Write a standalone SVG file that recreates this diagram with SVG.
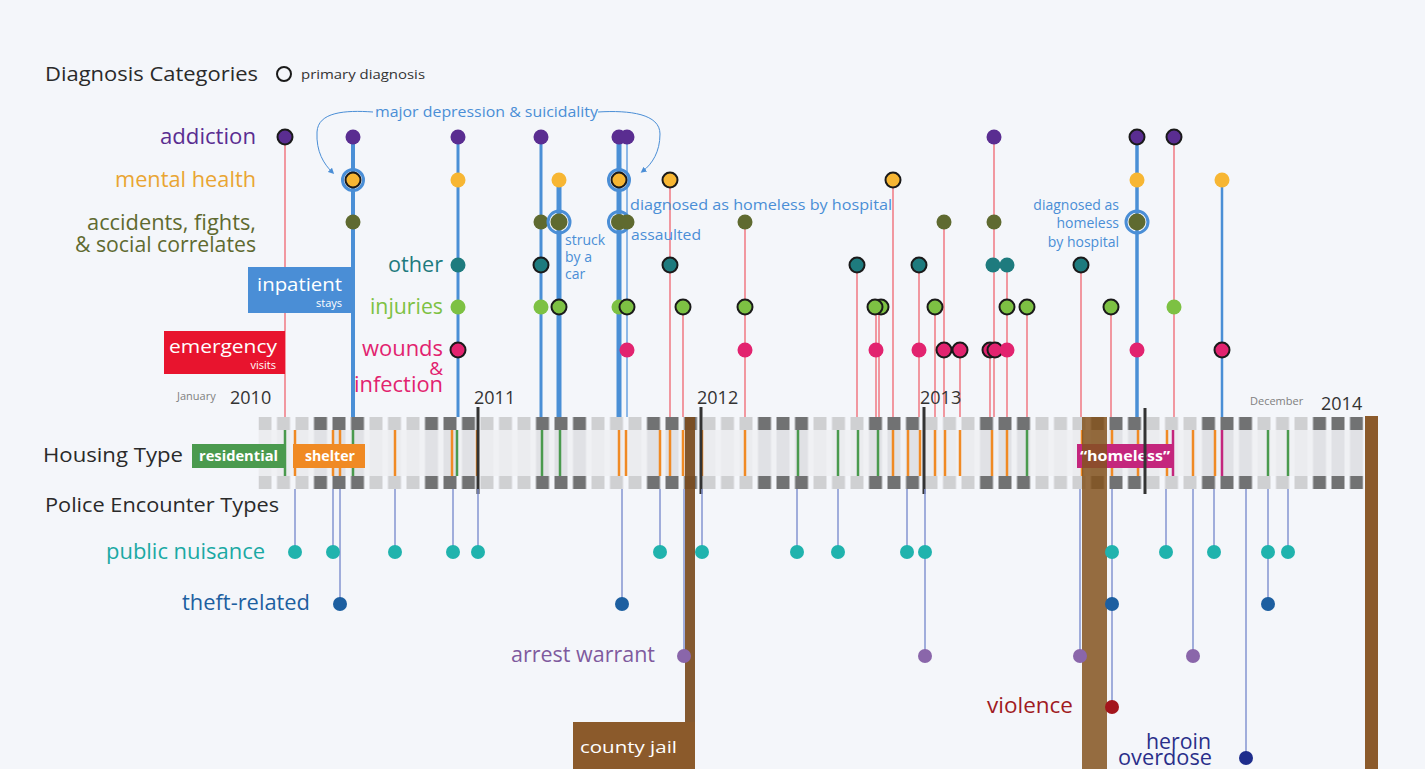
<svg xmlns="http://www.w3.org/2000/svg" width="1425" height="769" viewBox="0 0 1425 769">
<defs>
<style>
text{font-family:"Open Sans","Noto Sans","Liberation Sans",sans-serif}
.h{fill:#2a2a2a;font-size:20px}
.lab{font-size:21px}
.ann{fill:#4a8ed6;font-size:14px}
.wb{fill:#fff;font-weight:bold;font-size:14px}
.A{fill:#5a2d91}.M{fill:#f7b633}.S{fill:#5f6a30}.O{fill:#1e7b7e}.I{fill:#7dc143}.W{fill:#e2236f}
.P{stroke:#1a1a1a;stroke-width:2}
.halo{fill:none;stroke:#4a8ed6;stroke-width:3}
.pk{stroke:#f0808a;stroke-width:1.6;fill:none}
.bl{stroke:#4a8fd6;fill:none}
.pol{stroke:#8494d0;stroke-width:1.5;fill:none}
.hz{stroke-width:2.5;fill:none}
.ho{stroke:#f08a24}.hg{stroke:#4a9a4e}.hm{stroke:#c4267d}
.yr{fill:#333;font-size:18px}
.mo{fill:#808080;font-size:11px}
.pn{fill:#20b3ad}.th{fill:#1d5fa0}.aw{fill:#8a66aa}
</style>
<pattern id="pRow" patternUnits="userSpaceOnUse" x="258.5" y="0" width="111" height="769">
<rect x="0" y="0" width="13" height="769" fill="#cfd0d2"/>
<rect x="18.5" y="0" width="13" height="769" fill="#cfd0d2"/>
<rect x="37" y="0" width="13" height="769" fill="#cfd0d2"/>
<rect x="55.5" y="0" width="13" height="769" fill="#717273"/>
<rect x="74" y="0" width="13" height="769" fill="#717273"/>
<rect x="92.5" y="0" width="13" height="769" fill="#717273"/>
</pattern>
<pattern id="pMid" patternUnits="userSpaceOnUse" x="258.5" y="0" width="111" height="769">
<rect x="0" y="0" width="111" height="769" fill="#f0f1f4"/>
<rect x="0" y="0" width="13" height="769" fill="#ebecef"/>
<rect x="18.5" y="0" width="13" height="769" fill="#ebecef"/>
<rect x="37" y="0" width="13" height="769" fill="#ebecef"/>
<rect x="55.5" y="0" width="13" height="769" fill="#e0e1e5"/>
<rect x="74" y="0" width="13" height="769" fill="#e0e1e5"/>
<rect x="92.5" y="0" width="13" height="769" fill="#e0e1e5"/>
</pattern>
<marker id="ah" markerWidth="6" markerHeight="6" refX="3" refY="3" orient="auto" markerUnits="userSpaceOnUse">
<path d="M0,0 L6,3 L0,6 z" fill="#4a8ed6"/>
</marker>
</defs>

<rect x="0" y="0" width="1425" height="769" fill="#f4f6fa"/>

<!-- timeline band -->
<g id="timeline">
<rect x="258.5" y="430" width="1105" height="46" fill="url(#pMid)"/>
<rect x="258.5" y="417" width="1105" height="13" fill="url(#pRow)"/>
<rect x="258.5" y="476" width="1105" height="13" fill="url(#pRow)"/>
</g>

<!-- housing lines -->
<g id="housing-lines">
<line class="hz hg" x1="285" y1="430" x2="285" y2="476"/>
<line class="hz ho" x1="295" y1="430" x2="295" y2="476"/>
<line class="hz ho" x1="333" y1="430" x2="333" y2="476"/>
<line class="hz ho" x1="340" y1="430" x2="340" y2="476"/>
<line class="hz hg" x1="353" y1="430" x2="353" y2="476"/>
<line class="hz ho" x1="395" y1="430" x2="395" y2="476"/>
<line class="hz ho" x1="452" y1="430" x2="452" y2="476"/>
<line class="hz hg" x1="457" y1="430" x2="457" y2="476"/>
<line class="hz ho" x1="477" y1="430" x2="477" y2="476"/>
<line class="hz hg" x1="542" y1="430" x2="542" y2="476"/>
<line class="hz hg" x1="560" y1="430" x2="560" y2="476"/>
<line class="hz ho" x1="619" y1="430" x2="619" y2="476" stroke-width="4"/>
<line class="hz ho" x1="626" y1="430" x2="626" y2="476"/>
<line class="hz ho" x1="660" y1="430" x2="660" y2="476"/>
<line class="hz ho" x1="670" y1="430" x2="670" y2="476"/>
<line class="hz ho" x1="683" y1="430" x2="683" y2="476"/>
<line class="hz ho" x1="702" y1="430" x2="702" y2="476"/>
<line class="hz ho" x1="745" y1="430" x2="745" y2="476"/>
<line class="hz hg" x1="798" y1="430" x2="798" y2="476"/>
<line class="hz hg" x1="838" y1="430" x2="838" y2="476"/>
<line class="hz hg" x1="858" y1="430" x2="858" y2="476"/>
<line class="hz hg" x1="878" y1="430" x2="878" y2="476" stroke-width="3.5"/>
<line class="hz ho" x1="893" y1="430" x2="893" y2="476"/>
<line class="hz ho" x1="908" y1="430" x2="908" y2="476"/>
<line class="hz ho" x1="920" y1="430" x2="920" y2="476"/>
<line class="hz ho" x1="935" y1="430" x2="935" y2="476"/>
<line class="hz ho" x1="945" y1="430" x2="945" y2="476"/>
<line class="hz ho" x1="960" y1="430" x2="960" y2="476"/>
<line class="hz ho" x1="992" y1="430" x2="992" y2="476" stroke-width="3.5"/>
<line class="hz ho" x1="1007" y1="430" x2="1007" y2="476"/>
<line class="hz hg" x1="1027" y1="430" x2="1027" y2="476"/>
<line class="hz ho" x1="1082" y1="430" x2="1082" y2="476"/>
<line class="hz ho" x1="1112" y1="430" x2="1112" y2="476"/>
<line class="hz ho" x1="1138" y1="430" x2="1138" y2="476"/>
<line class="hz ho" x1="1167" y1="430" x2="1167" y2="476"/>
<line class="hz hm" x1="1173" y1="430" x2="1173" y2="476"/>
<line class="hz ho" x1="1193" y1="430" x2="1193" y2="476"/>
<line class="hz ho" x1="1215" y1="430" x2="1215" y2="476"/>
<line class="hz hm" x1="1222" y1="430" x2="1222" y2="476"/>
<line class="hz hg" x1="1268" y1="430" x2="1268" y2="476"/>
<line class="hz hg" x1="1288" y1="430" x2="1288" y2="476"/>
</g>

<!-- housing boxes -->
<g id="housing-residential">
<rect x="192" y="444" width="92" height="24" fill="#4a9a4e"/>
<text class="wb" x="199" y="461" textLength="79" lengthAdjust="spacingAndGlyphs">residential</text>
</g>
<g id="housing-shelter">
<rect x="293" y="444" width="72" height="24" fill="#f08a24"/>
<text class="wb" x="305" y="461" textLength="50" lengthAdjust="spacingAndGlyphs">shelter</text>
</g>
<g id="housing-homeless">
<rect x="1077" y="444" width="96" height="24" fill="#c4267d"/>
</g>

<!-- jail bars -->
<g id="county-jail">
<rect x="685" y="417" width="10" height="305" fill="#7a4b1e" opacity="0.92"/>
<rect x="573" y="722" width="122" height="47" fill="#8b5a2b"/>
<text x="580" y="753" fill="#fff" font-size="17" textLength="97" lengthAdjust="spacingAndGlyphs">county jail</text>
<rect x="1082" y="417" width="25" height="352" fill="#84531f" opacity="0.85"/>
<rect x="1365" y="416" width="13" height="353" fill="#8b5a2b"/>
</g>
<text class="wb" x="1080" y="461" textLength="90" lengthAdjust="spacingAndGlyphs">“homeless”</text>

<!-- year lines -->
<g id="year-lines" stroke="#333" stroke-width="3">
<line x1="478" y1="407" x2="478" y2="494"/>
<line x1="701" y1="407" x2="701" y2="494"/>
<line x1="924" y1="407" x2="924" y2="494"/>
<line x1="1145" y1="408" x2="1145" y2="494"/>
</g>

<!-- connectors -->
<g id="connectors">
<!-- emergency stems -->
<line class="pk" x1="285" y1="137" x2="285" y2="417"/>
<line class="pk" x1="670" y1="180" x2="670" y2="417"/>
<line class="pk" x1="683" y1="307" x2="683" y2="417"/>
<line class="pk" x1="745" y1="222" x2="745" y2="417"/>
<line class="pk" x1="857" y1="265" x2="857" y2="417"/>
<line class="pk" x1="876" y1="307" x2="876" y2="417"/>
<line class="pk" x1="879" y1="307" x2="879" y2="417"/>
<line class="pk" x1="893" y1="180" x2="893" y2="417"/>
<line class="pk" x1="919" y1="265" x2="919" y2="417"/>
<line class="pk" x1="935" y1="307" x2="935" y2="417"/>
<line class="pk" x1="944" y1="222" x2="944" y2="417"/>
<line class="pk" x1="960" y1="350" x2="960" y2="417"/>
<line class="pk" x1="990" y1="350" x2="990" y2="417"/>
<line class="pk" x1="994" y1="137" x2="994" y2="417"/>
<line class="pk" x1="1007" y1="265" x2="1007" y2="417"/>
<line class="pk" x1="1027" y1="307" x2="1027" y2="417"/>
<line class="pk" x1="1081" y1="265" x2="1081" y2="417"/>
<line class="pk" x1="1111" y1="307" x2="1111" y2="417"/>
<line class="pk" x1="1174" y1="137" x2="1174" y2="417"/>
<!-- inpatient stems -->
<line class="bl" stroke-width="4" x1="353" y1="137" x2="353" y2="417"/>
<line class="bl" stroke-width="3" x1="458" y1="137" x2="458" y2="417"/>
<line class="bl" stroke-width="3" x1="541" y1="137" x2="541" y2="417"/>
<line class="bl" stroke-width="5" x1="559" y1="180" x2="559" y2="417"/>
<line class="bl" stroke-width="5" x1="619" y1="137" x2="619" y2="417"/>
<line stroke="#8db8e8" stroke-width="2" x1="627" y1="137" x2="627" y2="417"/>
<line class="bl" stroke-width="3.5" x1="1137" y1="137" x2="1137" y2="417"/>
<line class="bl" stroke-width="2.5" x1="1222" y1="180" x2="1222" y2="417"/>
<!-- police stems -->
<line class="pol" x1="295" y1="489" x2="295" y2="552"/>
<line class="pol" x1="333" y1="489" x2="333" y2="552"/>
<line class="pol" x1="340" y1="489" x2="340" y2="604"/>
<line class="pol" x1="395" y1="489" x2="395" y2="552"/>
<line class="pol" x1="453" y1="489" x2="453" y2="552"/>
<line class="pol" x1="478" y1="489" x2="478" y2="552"/>
<line class="pol" x1="622" y1="489" x2="622" y2="604"/>
<line class="pol" x1="660" y1="489" x2="660" y2="552"/>
<line class="pol" x1="684" y1="489" x2="684" y2="656"/>
<line class="pol" x1="702" y1="489" x2="702" y2="552"/>
<line class="pol" x1="797" y1="489" x2="797" y2="552"/>
<line class="pol" x1="838" y1="489" x2="838" y2="552"/>
<line class="pol" x1="907" y1="489" x2="907" y2="552"/>
<line class="pol" x1="925" y1="489" x2="925" y2="656"/>
<line class="pol" x1="1080" y1="489" x2="1080" y2="656"/>
<line class="pol" x1="1112" y1="489" x2="1112" y2="707"/>
<line class="pol" x1="1166" y1="489" x2="1166" y2="552"/>
<line class="pol" x1="1193" y1="489" x2="1193" y2="656"/>
<line class="pol" x1="1214" y1="489" x2="1214" y2="552"/>
<line class="pol" x1="1246" y1="489" x2="1246" y2="758"/>
<line class="pol" x1="1268" y1="489" x2="1268" y2="604"/>
<line class="pol" x1="1288" y1="489" x2="1288" y2="552"/>
<!-- annotation curves -->
<path d="M373,112 C345,110 318,112 317,132 C316,152 324,164 332,172" fill="none" stroke="#4a8ed6" stroke-width="1" marker-end="url(#ah)"/>
<path d="M598,112 C630,110 660,114 660,134 C660,152 652,164 643,171" fill="none" stroke="#4a8ed6" stroke-width="1" marker-end="url(#ah)"/>
</g>

<!-- diagnosis events -->
<g id="ev-2010-01"><circle class="A P" cx="285" cy="137" r="7.5"/></g>
<g id="ev-2010-05">
<circle class="A" cx="353" cy="137" r="7.5"/>
<circle class="halo" cx="353" cy="180" r="10.5"/><circle class="M P" cx="353" cy="180" r="7.5"/>
<circle class="S" cx="353" cy="222" r="7.5"/>
</g>
<g id="ev-2010-11">
<circle class="A" cx="458" cy="137" r="7.5"/><circle class="M" cx="458" cy="180" r="7.5"/>
<circle class="O" cx="458" cy="265" r="7.5"/><circle class="I" cx="458" cy="307" r="7.5"/>
<circle class="W P" cx="458" cy="350" r="7.5"/>
</g>
<g id="ev-2011-04">
<circle class="A" cx="541" cy="137" r="7.5"/><circle class="S" cx="541" cy="222" r="7.5"/>
<circle class="O P" cx="541" cy="265" r="7.5"/><circle class="I" cx="541" cy="307" r="7.5"/>
</g>
<g id="ev-2011-05">
<circle class="M" cx="559" cy="180" r="7.5"/>
<circle class="halo" cx="559" cy="222" r="11"/><circle class="S" cx="559" cy="222" r="8.5"/>
<circle class="I P" cx="559" cy="307" r="7.5"/>
</g>
<g id="ev-2011-08a">
<circle class="A" cx="619" cy="137" r="7.5"/>
<circle class="halo" cx="619" cy="180" r="10.5"/><circle class="M P" cx="619" cy="180" r="7.5"/>
<circle class="halo" cx="619" cy="222" r="10.5"/><circle class="S" cx="619" cy="222" r="8"/>
<circle class="I" cx="619" cy="307" r="7.5"/>
</g>
<g id="ev-2011-08b">
<circle class="A" cx="627" cy="137" r="7.5"/><circle class="S" cx="627" cy="222" r="7.5"/>
<circle class="I P" cx="627" cy="307" r="7.5"/><circle class="W" cx="627" cy="350" r="7.5"/>
</g>
<g id="ev-2011-11"><circle class="M P" cx="670" cy="180" r="7.5"/><circle class="O P" cx="670" cy="265" r="7.5"/></g>
<g id="ev-2011-12"><circle class="I P" cx="683" cy="307" r="7.5"/></g>
<g id="ev-2012-03"><circle class="S" cx="745" cy="222" r="7.5"/><circle class="I P" cx="745" cy="307" r="7.5"/><circle class="W" cx="745" cy="350" r="7.5"/></g>
<g id="ev-2012-09"><circle class="O P" cx="857" cy="265" r="7.5"/></g>
<g id="ev-2012-10"><circle class="I P" cx="881" cy="307" r="7.5"/><circle class="I P" cx="875" cy="307" r="7.5"/><circle class="W" cx="876" cy="350" r="7.5"/></g>
<g id="ev-2012-11"><circle class="M P" cx="893" cy="180" r="7.5"/></g>
<g id="ev-2012-12"><circle class="O P" cx="919" cy="265" r="7.5"/><circle class="W" cx="919" cy="350" r="7.5"/></g>
<g id="ev-2013-01a"><circle class="I P" cx="935" cy="307" r="7.5"/></g>
<g id="ev-2013-01b"><circle class="S" cx="944" cy="222" r="7.5"/><circle class="W P" cx="944" cy="350" r="7.5"/></g>
<g id="ev-2013-02"><circle class="W P" cx="960" cy="350" r="7.5"/></g>
<g id="ev-2013-04">
<circle class="A" cx="994" cy="137" r="7.5"/><circle class="S" cx="994" cy="222" r="7.5"/>
<circle class="O" cx="993" cy="265" r="7.5"/>
<circle class="W P" cx="990" cy="350" r="7.5"/><circle class="W P" cx="995" cy="350" r="7.5"/>
</g>
<g id="ev-2013-05">
<circle class="O" cx="1007" cy="265" r="7.5"/><circle class="I P" cx="1007" cy="307" r="7.5"/><circle class="W" cx="1007" cy="350" r="7.5"/>
</g>
<g id="ev-2013-06"><circle class="I P" cx="1027" cy="307" r="7.5"/></g>
<g id="ev-2013-09"><circle class="O P" cx="1081" cy="265" r="7.5"/></g>
<g id="ev-2013-11"><circle class="I P" cx="1111" cy="307" r="7.5"/></g>
<g id="ev-2013-12">
<circle class="A P" cx="1137" cy="137" r="7.5"/><circle class="M" cx="1137" cy="180" r="7.5"/>
<circle class="halo" cx="1137" cy="222" r="11"/><circle class="S" cx="1137" cy="222" r="8.5"/>
<circle class="W" cx="1137" cy="350" r="7.5"/>
</g>
<g id="ev-2014-02"><circle class="A P" cx="1174" cy="137" r="7.5"/><circle class="I" cx="1174" cy="307" r="7.5"/></g>
<g id="ev-2014-05"><circle class="M" cx="1222" cy="180" r="7.5"/><circle class="W P" cx="1222" cy="350" r="7.5"/></g>

<!-- police dots -->
<g id="police-public-nuisance" class="pn">
<circle cx="295" cy="552" r="7"/><circle cx="333" cy="552" r="7"/><circle cx="395" cy="552" r="7"/>
<circle cx="453" cy="552" r="7"/><circle cx="478" cy="552" r="7"/><circle cx="660" cy="552" r="7"/>
<circle cx="702" cy="552" r="7"/><circle cx="797" cy="552" r="7"/><circle cx="838" cy="552" r="7"/>
<circle cx="907" cy="552" r="7"/><circle cx="925" cy="552" r="7"/><circle cx="1112" cy="552" r="7"/>
<circle cx="1166" cy="552" r="7"/><circle cx="1214" cy="552" r="7"/><circle cx="1268" cy="552" r="7"/>
<circle cx="1288" cy="552" r="7"/>
</g>
<g id="police-theft" class="th">
<circle cx="340" cy="604" r="7"/><circle cx="622" cy="604" r="7"/><circle cx="1112" cy="604" r="7"/><circle cx="1268" cy="604" r="7"/>
</g>
<g id="police-arrest" class="aw">
<circle cx="684" cy="656" r="7"/><circle cx="925" cy="656" r="7"/><circle cx="1080" cy="656" r="7"/><circle cx="1193" cy="656" r="7"/>
</g>
<g id="police-violence"><circle cx="1112" cy="707" r="7" fill="#a3151c"/></g>
<g id="police-heroin"><circle cx="1246" cy="758" r="7" fill="#1e2d8c"/></g>

<!-- legend boxes -->
<g id="inpatient-label">
<rect x="248" y="267" width="105" height="46" fill="#4a8ed6"/>
<text x="257" y="291" fill="#fff" font-size="19" textLength="85" lengthAdjust="spacingAndGlyphs">inpatient</text>
<text x="342" y="307" fill="#fff" font-size="11" text-anchor="end">stays</text>
</g>
<g id="emergency-label">
<rect x="164" y="331" width="121" height="43" fill="#e8142e"/>
<text x="169" y="353" fill="#fff" font-size="19" textLength="108" lengthAdjust="spacingAndGlyphs">emergency</text>
<text x="276" y="369" fill="#fff" font-size="11" text-anchor="end">visits</text>
</g>

<!-- headings and category labels -->
<g id="legend-diagnosis">
<text class="h" x="45" y="81" font-size="21" textLength="213" lengthAdjust="spacingAndGlyphs">Diagnosis Categories</text>
<circle cx="284" cy="74" r="7" fill="none" stroke="#1a1a1a" stroke-width="2"/>
<text x="301" y="79" fill="#333" font-size="13" textLength="124" lengthAdjust="spacingAndGlyphs">primary diagnosis</text>
</g>
<g id="cat-labels" class="lab" text-anchor="end">
<text class="A" x="256" y="144" textLength="96" lengthAdjust="spacingAndGlyphs">addiction</text>
<text x="256" y="187" fill="#e9a532" textLength="141" lengthAdjust="spacingAndGlyphs">mental health</text>
<text class="S" x="256" y="230" textLength="169" lengthAdjust="spacingAndGlyphs">accidents, fights,</text>
<text class="S" x="256" y="252" textLength="181" lengthAdjust="spacingAndGlyphs">&amp; social correlates</text>
<text class="O" x="443" y="272" textLength="55" lengthAdjust="spacingAndGlyphs">other</text>
<text class="I" x="443" y="314" textLength="73" lengthAdjust="spacingAndGlyphs">injuries</text>
<text class="W" x="443" y="356" textLength="81" lengthAdjust="spacingAndGlyphs">wounds</text>
<text class="W" x="443" y="375" font-size="19">&amp;</text>
<text class="W" x="443" y="392" textLength="89" lengthAdjust="spacingAndGlyphs">infection</text>
</g>

<!-- annotations -->
<g id="annotations" class="ann">
<text x="375" y="117" textLength="223" lengthAdjust="spacingAndGlyphs">major depression &amp; suicidality</text>
<text x="630" y="210" font-size="15" textLength="262" lengthAdjust="spacingAndGlyphs">diagnosed as homeless by hospital</text>
<text x="631" y="240" textLength="70" lengthAdjust="spacingAndGlyphs">assaulted</text>
<text x="565" y="245">struck</text>
<text x="565" y="262">by a</text>
<text x="565" y="279">car</text>
<g text-anchor="end">
<text x="1119" y="210">diagnosed as</text>
<text x="1119" y="228">homeless</text>
<text x="1119" y="247">by hospital</text>
</g>
</g>

<!-- dates -->
<g id="dates">
<text class="mo" x="177" y="400">January</text>
<text class="yr" x="230" y="404">2010</text>
<text class="yr" x="474" y="404">2011</text>
<text class="yr" x="697" y="404">2012</text>
<text class="yr" x="920" y="404">2013</text>
<text class="mo" x="1250" y="405" font-size="12">December</text>
<text class="yr" x="1321" y="410">2014</text>
</g>

<g id="legend-housing">
<text class="h" x="43" y="462" textLength="140" lengthAdjust="spacingAndGlyphs">Housing Type</text>
</g>

<g id="legend-police">
<text class="h" x="45" y="512" textLength="234" lengthAdjust="spacingAndGlyphs">Police Encounter Types</text>
<g class="lab" text-anchor="end" font-size="20">
<text x="265" y="559" fill="#1aa9a4" textLength="159" lengthAdjust="spacingAndGlyphs">public nuisance</text>
<text x="310" y="610" fill="#1d5fa0" textLength="128" lengthAdjust="spacingAndGlyphs">theft-related</text>
<text x="655" y="662" fill="#7f5a9e" textLength="144" lengthAdjust="spacingAndGlyphs">arrest warrant</text>
<text x="1073" y="713" fill="#a01a22" textLength="86" lengthAdjust="spacingAndGlyphs">violence</text>
<text x="1211" y="749" fill="#2a2f8a" textLength="65" lengthAdjust="spacingAndGlyphs">heroin</text>
<text x="1212" y="765" fill="#2a2f8a" textLength="94" lengthAdjust="spacingAndGlyphs">overdose</text>
</g>
</g>
</svg>
